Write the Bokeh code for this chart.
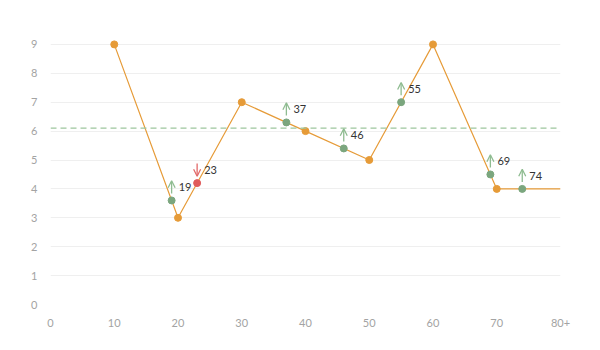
from bokeh.plotting import figure
from bokeh.models import ColumnDataSource, Range1d, FixedTicker, Span, Arrow, OpenHead
from bokeh.core.properties import value
from bokeh.embed import file_html
from bokeh.resources import INLINE

# Main series
ages = [10, 20, 30, 40, 50, 60, 70, 80]
scores = [9, 3, 7, 6, 5, 9, 4, 4]

# Events along the series
event_x = [19, 23, 37, 46, 55, 69, 74]
event_y = [3.6, 4.2, 6.3, 5.4, 7.0, 4.5, 4.0]
event_dir = ["up", "down", "up", "up", "up", "up", "up"]
event_labels = [str(v) for v in event_x]

threshold = 6.1

x_ticks = [0, 10, 20, 30, 40, 50, 60, 70, 80]
x_tick_labels = {80: "80+"}
y_ticks = [0, 1, 2, 3, 4, 5, 6, 7, 8, 9]

ORANGE = "#e69b38"
GREEN = "#7ba67e"
GREEN_ARROW = "#8fbc91"
RED = "#e05c5c"
RED_ARROW = "#e26a6a"
FONT = "Lato"

# arrow placement above each event marker, in y units
ARROW_LOW, ARROW_HIGH = 0.24, 0.68

p = figure(width=600, height=350, output_backend="svg", toolbar_location=None,
           x_range=Range1d(0, 80), y_range=Range1d(0, 10),
           min_border_left=50, min_border_right=40,
           min_border_top=15, min_border_bottom=46)
p.outline_line_color = None
p.background_fill_color = "white"
p.border_fill_color = "white"

for ax in (p.xaxis, p.yaxis):
    ax.axis_line_color = None
    ax.major_tick_line_color = None
    ax.minor_tick_line_color = None
    ax.major_label_text_color = "#a3a3a3"
    ax.major_label_text_font = FONT
    ax.major_label_text_font_size = "11px"
p.yaxis.major_label_standoff = 7
p.xaxis.major_label_standoff = 8

p.xaxis.ticker = FixedTicker(ticks=x_ticks)
p.xaxis.major_label_overrides = x_tick_labels
p.yaxis.ticker = FixedTicker(ticks=y_ticks)

p.xgrid.grid_line_color = None
p.ygrid.grid_line_color = "#efefef"
p.ygrid.grid_line_width = 1

p.add_layout(Span(location=threshold, dimension="width", line_color="#9dc69d",
                  line_dash="6 4", line_width=1.3))

src = ColumnDataSource(dict(x=ages, y=scores))
p.line("x", "y", source=src, line_color=ORANGE, line_width=1.2)
p.scatter(ages[:-1], scores[:-1], size=7, fill_color=ORANGE, line_color=ORANGE)

colors = [GREEN if d == "up" else RED for d in event_dir]
esrc = ColumnDataSource(dict(x=event_x, y=event_y, c=colors, t=event_labels))
p.scatter("x", "y", source=esrc, size=7, fill_color="c", line_color="c")

# direction arrows
for direction, col in (("up", GREEN_ARROW), ("down", RED_ARROW)):
    xs = [x for x, d in zip(event_x, event_dir) if d == direction]
    ys = [y for y, d in zip(event_y, event_dir) if d == direction]
    low = [y + ARROW_LOW for y in ys]
    high = [y + ARROW_HIGH for y in ys]
    start, end = (low, high) if direction == "up" else (high, low)
    asrc = ColumnDataSource(dict(x=xs, ys=start, ye=end))
    p.add_layout(Arrow(source=asrc, x_start="x", y_start="ys", x_end="x", y_end="ye",
                       line_color=col, line_width=1.3,
                       end=OpenHead(size=7, line_color=col, line_width=1.3)))

p.text("x", "y", text="t", source=esrc, text_color="#333333", text_font=value(FONT),
       text_font_size="11px", text_align="left", text_baseline="middle",
       x_offset=7, y_offset=-13)

open("out.html", "w").write(file_html(p, INLINE))
